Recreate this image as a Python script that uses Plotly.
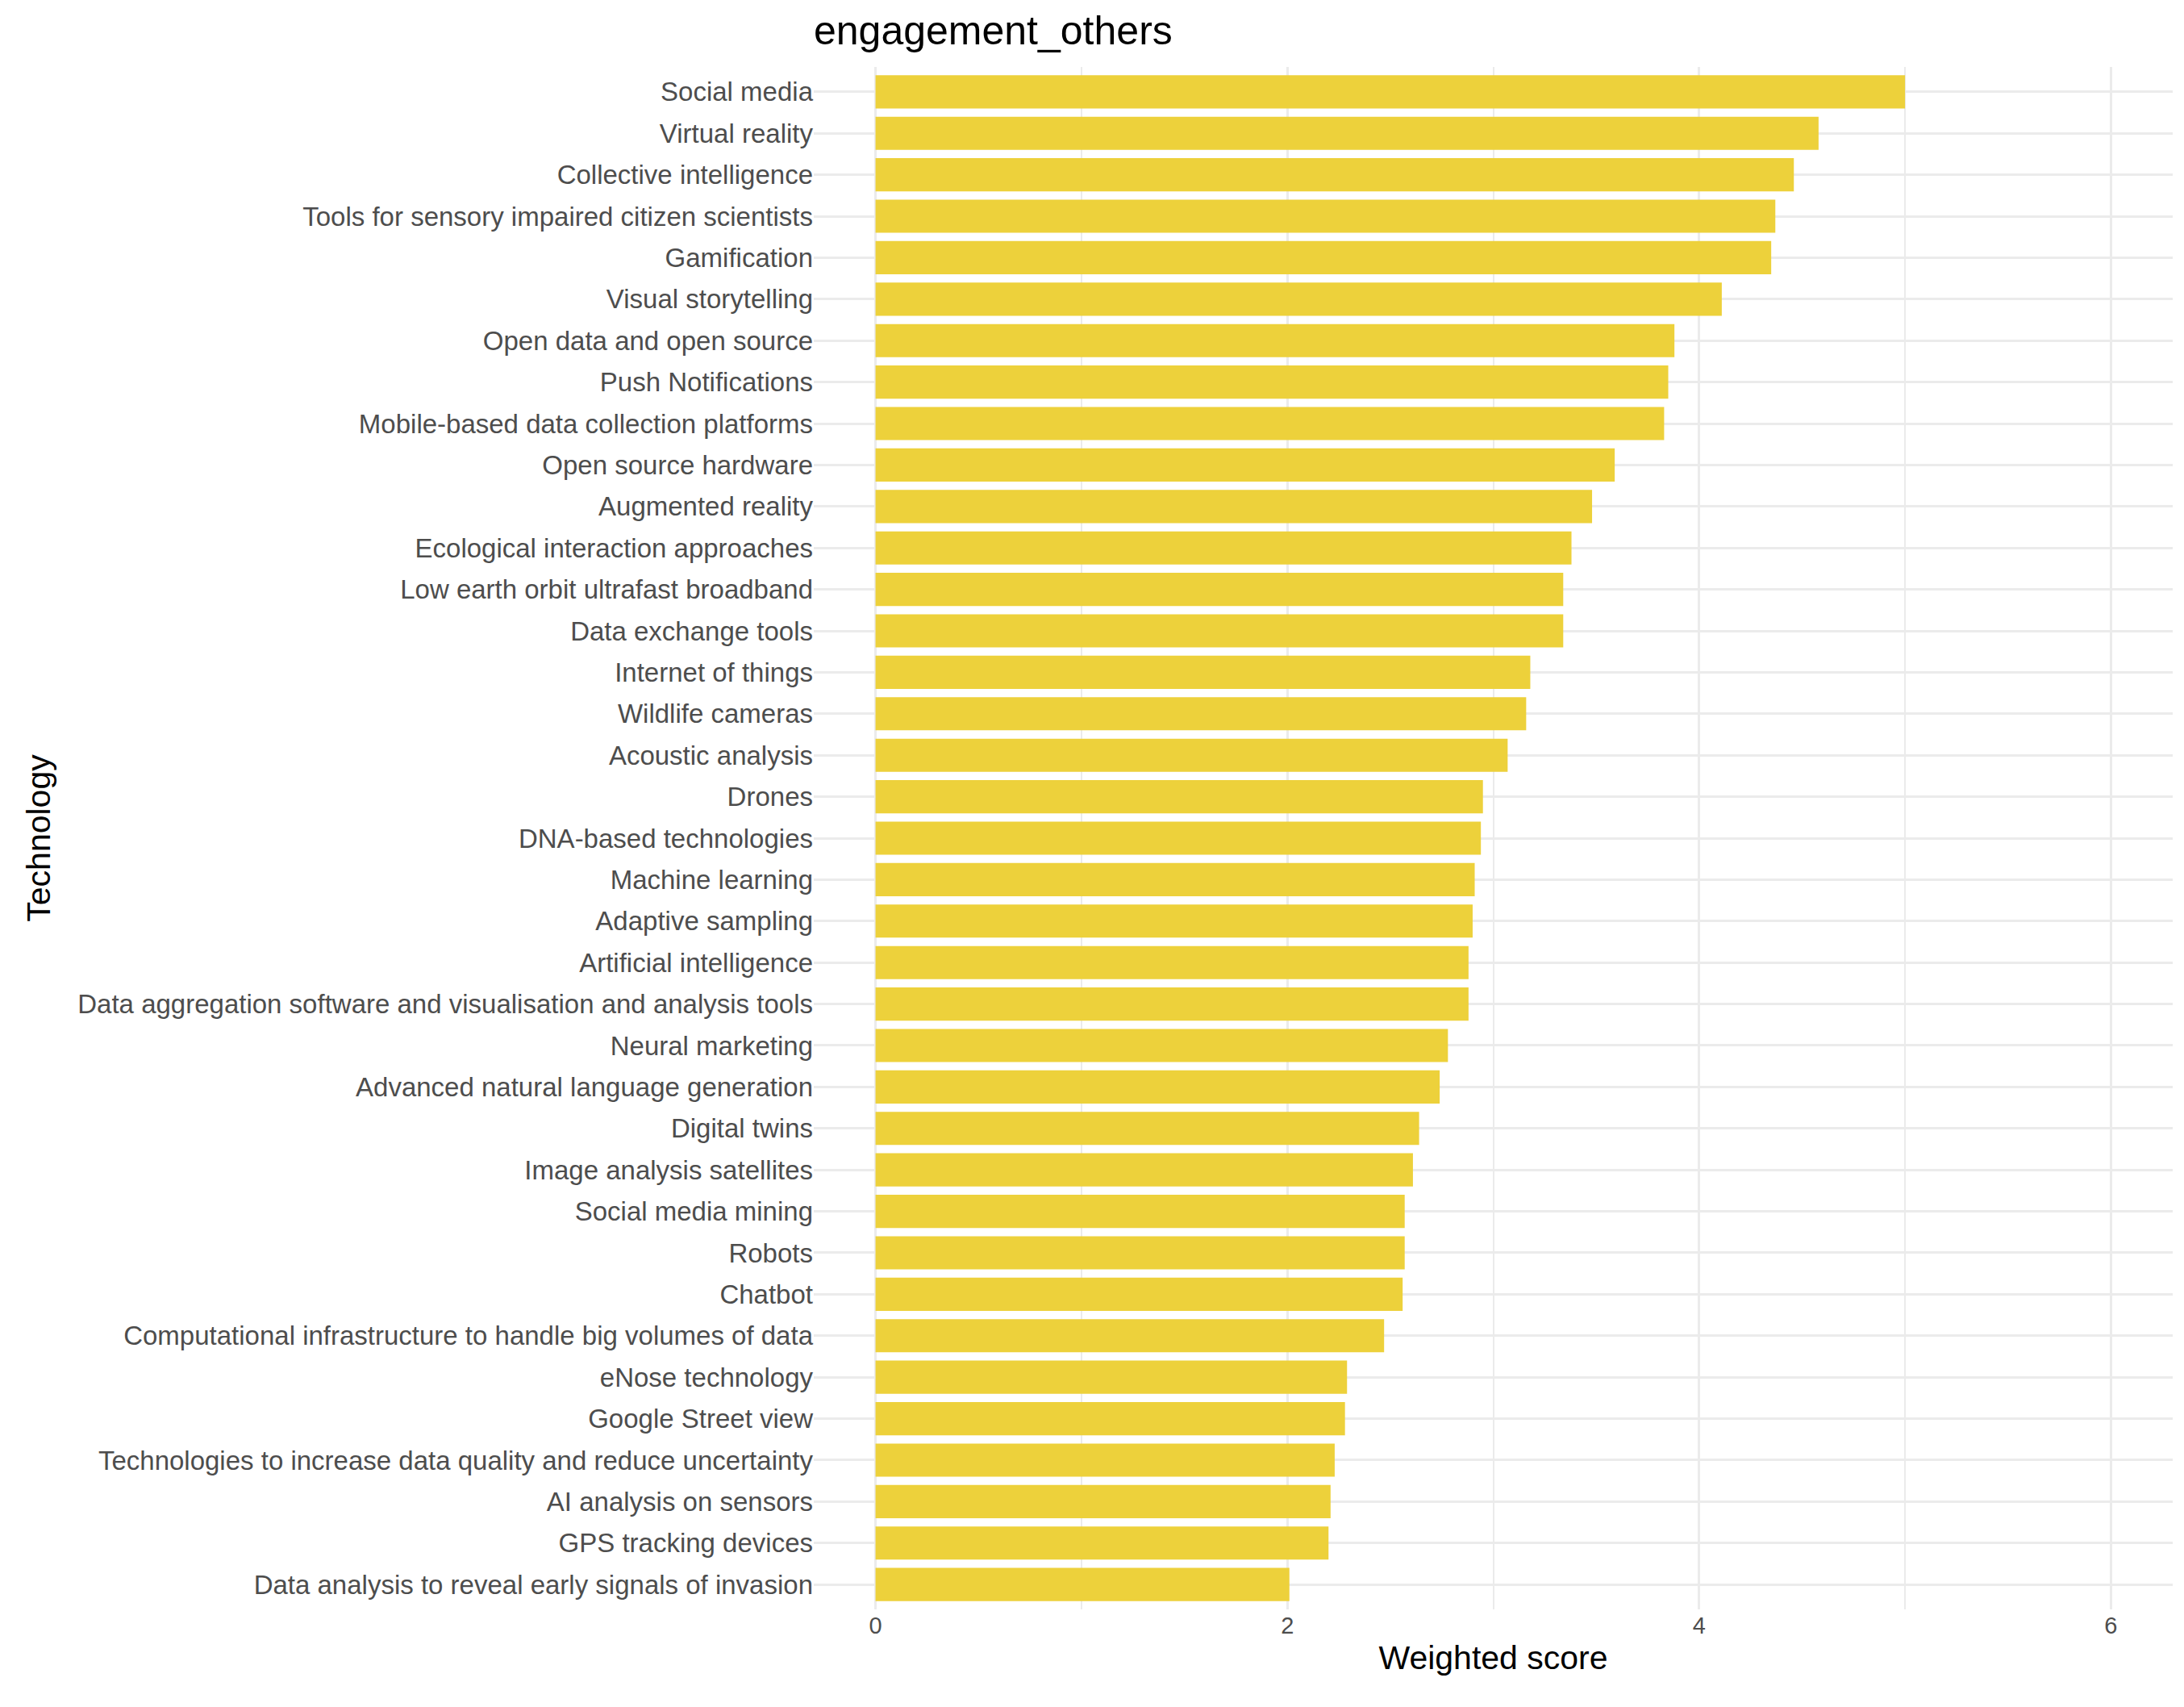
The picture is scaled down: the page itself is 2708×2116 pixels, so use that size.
import plotly.graph_objects as go

technologies = [
    "Social media", "Virtual reality", "Collective intelligence",
    "Tools for sensory impaired citizen scientists", "Gamification",
    "Visual storytelling", "Open data and open source", "Push Notifications",
    "Mobile-based data collection platforms", "Open source hardware",
    "Augmented reality", "Ecological interaction approaches",
    "Low earth orbit ultrafast broadband", "Data exchange tools",
    "Internet of things", "Wildlife cameras", "Acoustic analysis", "Drones",
    "DNA-based technologies", "Machine learning", "Adaptive sampling",
    "Artificial intelligence",
    "Data aggregation software and visualisation and analysis tools",
    "Neural marketing", "Advanced natural language generation",
    "Digital twins", "Image analysis satellites", "Social media mining",
    "Robots", "Chatbot",
    "Computational infrastructure to handle big volumes of data",
    "eNose technology", "Google Street view",
    "Technologies to increase data quality and reduce uncertainty",
    "AI analysis on sensors", "GPS tracking devices",
    "Data analysis to reveal early signals of invasion",
]
scores = [
    5.00, 4.58, 4.46, 4.37, 4.35, 4.11, 3.88, 3.85, 3.83, 3.59, 3.48, 3.38,
    3.34, 3.34, 3.18, 3.16, 3.07, 2.95, 2.94, 2.91, 2.90, 2.88, 2.88, 2.78,
    2.74, 2.64, 2.61, 2.57, 2.57, 2.56, 2.47, 2.29, 2.28, 2.23, 2.21, 2.20,
    2.01,
]
x_ticks = [0, 2, 4, 6]

fig = go.Figure(go.Bar(
    x=scores, y=technologies, orientation="h",
    marker=dict(color="#EDD13B", line_width=0), width=0.8,
))

grid = "#EBEBEB"
fig.update_layout(
    width=2708, height=2116,
    paper_bgcolor="white", plot_bgcolor="white",
    margin=dict(l=1001, r=22, t=75, b=129),
    font=dict(family="Liberation Sans, Arial, sans-serif", color="#4D4D4D", size=29),
    title=dict(text="engagement_others", x=0, xref="paper", xanchor="left",
               y=1 - 12 / 2116, yanchor="top",
               font=dict(size=50, color="black")),
    showlegend=False,
    bargap=0.2,
)
fig.update_xaxes(
    range=[-0.3, 6.3], tickvals=x_ticks, showgrid=True, gridcolor=grid,
    gridwidth=3, zeroline=False, ticks="", ticklen=8,
    minor=dict(dtick=1, showgrid=True, gridcolor=grid, gridwidth=1.5),
    title=dict(text="Weighted score", font=dict(size=41, color="black"), standoff=10),
)
fig.update_yaxes(
    categoryorder="array", categoryarray=technologies[::-1],
    showgrid=True, gridcolor=grid, gridwidth=3, ticks="", ticklen=8,
    tickfont=dict(size=33),
    range=[-0.6, len(technologies) - 0.4],
    title=dict(text="Technology", font=dict(size=41, color="black"), standoff=20),
)

fig.write_html("out.html")
